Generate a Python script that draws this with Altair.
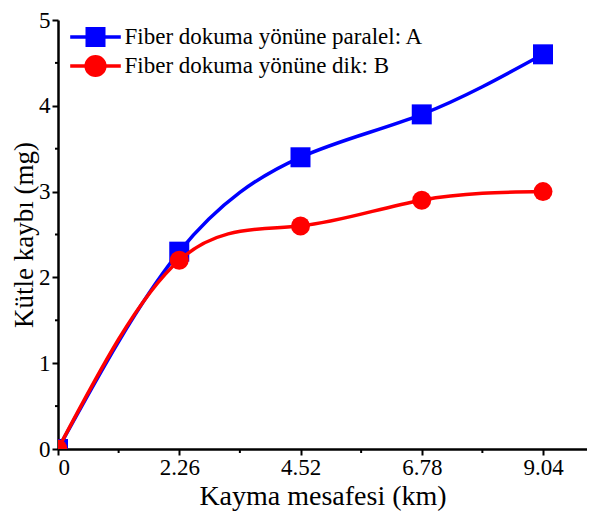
import altair as alt
import pandas as pd

x_km = [0, 2.26, 4.52, 6.78, 9.04]
paralel_A = [0.0, 2.3, 3.4, 3.9, 4.6]
dik_B = [0.0, 2.2, 2.6, 2.9, 3.0]
series_names = ["Fiber dokuma yönüne paralel: A", "Fiber dokuma yönüne dik: B"]
series_colors = ["#0000ff", "#ff0000"]
series_shapes = ["square", "circle"]
x_ticks = [0, 2.26, 4.52, 6.78, 9.04]
x_minor = [1.13, 3.39, 5.65, 7.91]
y_ticks = [0, 1, 2, 3, 4, 5]
y_minor = [0.5, 1.5, 2.5, 3.5, 4.5]

rows = []
for xv, a, b in zip(x_km, paralel_A, dik_B):
    rows.append({"x": xv, "y": a, "series": series_names[0]})
    rows.append({"x": xv, "y": b, "series": series_names[1]})
df = pd.DataFrame(rows)

FONT = "Liberation Serif"
axis_common = dict(
    grid=False, domainColor="black", domainWidth=2.5, tickColor="black",
    tickWidth=2, tickSize=6, labelFont=FONT, labelFontSize=23, labelColor="black",
    titleFont=FONT, titleColor="black", titleFontWeight="normal",
)

x_enc = alt.X("x:Q", scale=alt.Scale(domain=[0, 9.86], nice=False, zero=False),
              axis=alt.Axis(values=x_ticks, format=".3~g", title="Kayma mesafesi (km)",
                            labelPadding=1, titlePadding=3, titleFontSize=28, **axis_common))
y_enc = alt.Y("y:Q", scale=alt.Scale(domain=[0, 5], nice=False),
              axis=alt.Axis(values=y_ticks, format="d", title="Kütle kaybı (mg)",
                            labelPadding=2, titlePadding=0, titleFontSize=27, **axis_common))

layers = []
for name, col, shp in zip(series_names, series_colors, series_shapes):
    base = alt.Chart(df).transform_filter(alt.datum.series == name)
    layers.append(base.mark_line(color=col, strokeWidth=3.5, interpolate="natural", clip=True)
                  .encode(x=x_enc, y=y_enc))
    size = 400 if shp == "square" else 360
    layers.append(base.mark_point(shape=shp, filled=True, size=size, color=col, opacity=1, clip=True)
                  .encode(x=x_enc, y=y_enc))

pathA = "M-2.3,0H2.3M-0.75,-0.75H0.75V0.75H-0.75Z"
pathB = "M-2.3,0H2.3M-0.85,0A0.85,0.85,0,1,0,0.85,0A0.85,0.85,0,1,0,-0.85,0Z"

leg = dict(title=None, orient="none", legendX=24.5, legendY=4, labelFont=FONT,
           labelFontSize=23, labelColor="black", symbolSize=484, symbolStrokeWidth=3.5,
           symbolOpacity=1, labelOffset=16, rowPadding=-6, padding=0, labelLimit=0)

legend_layer = alt.Chart(df).mark_point(filled=False, opacity=0, size=484, strokeWidth=3.5).encode(
    x=x_enc, y=y_enc,
    color=alt.Color("series:N", scale=alt.Scale(domain=series_names, range=series_colors),
                    legend=alt.Legend(**leg)),
    fill=alt.Fill("series:N", scale=alt.Scale(domain=series_names, range=series_colors),
                  legend=alt.Legend(**leg)),
    shape=alt.Shape("series:N", scale=alt.Scale(domain=series_names, range=[pathA, pathB]),
                    legend=alt.Legend(**leg)),
)

xminor = alt.Chart(pd.DataFrame({"x": x_minor})).mark_rule(color="black", strokeWidth=2).encode(
    x=alt.X("x:Q"), y=alt.value(429), y2=alt.value(433))
yminor = alt.Chart(pd.DataFrame({"y": y_minor})).mark_rule(color="black", strokeWidth=2).encode(
    y=alt.Y("y:Q"), x=alt.value(0), x2=alt.value(-3))

chart = alt.layer(*layers, legend_layer, xminor, yminor).properties(
    width=529, height=429,
    padding={"left": 50, "top": 12, "right": 0, "bottom": 62},
    autosize="none",
).configure_view(stroke=None).configure_axis(labelFont=FONT, titleFont=FONT)

chart.save("out.html", embed_options={"renderer": "svg", "actions": False})
